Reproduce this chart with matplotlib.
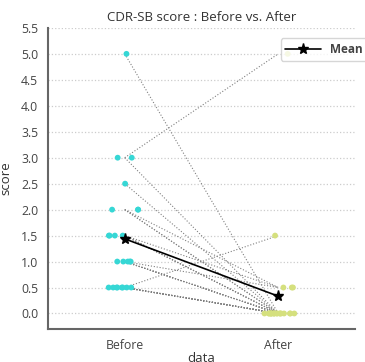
import numpy as np
import pandas as pd
import matplotlib
matplotlib.use('Agg')
import matplotlib.pyplot as plt
import seaborn as sns

# paired scores per subject (before -> after)
before = [5.0, 3.0, 3.0, 2.5, 2.0, 2.0, 2.0, 1.5, 1.5, 1.5, 1.5,
          1.0, 1.0, 1.0, 1.0, 1.0, 0.5, 0.5, 0.5, 0.5, 0.5, 0.5, 0.5, 0.5]
after = [0.0, 5.0, 0.0, 0.0, 0.0, 0.5, 0.0, 0.0, 0.5, 0.0, 0.0,
         0.0, 0.5, 0.0, 0.0, 0.0, 1.5, 0.0, 0.0, 0.0, 0.0, 0.0, 0.0, 0.0]
groups = ['Before', 'After']
colors = ['#36d7d5', '#d5e07e']

df = pd.DataFrame({'data': ['Before'] * len(before) + ['After'] * len(after),
                   'score': before + after})

sns.set_style('white')
plt.rcParams['font.family'] = ['Open Sans', 'DejaVu Sans']

fig = plt.figure(figsize=(3.65, 3.62), dpi=100)
ax = fig.add_axes([0.1315, 0.091, 0.841, 0.832])

# subject lines
for b, a in zip(before, after):
    ax.plot([0, 1], [b, a], color='gray', ls=':', lw=0.8, zorder=1)

np.random.seed(3)
sns.stripplot(data=df, x='data', y='score', hue='data', palette=colors,
              order=groups, jitter=0.11, size=4.2, legend=False, ax=ax, zorder=2)

means = [np.mean(before), np.mean(after)]
ax.plot([0, 1], means, color='black', lw=1.2, marker='*', ms=8, label='Mean', zorder=3)

ax.set_xlim(-0.5, 1.5)
ax.set_ylim(-0.3, 5.5)
ax.set_yticks(np.arange(0, 5.51, 0.5))
ax.yaxis.grid(True, ls=':', color='#cccccc', lw=0.9)
ax.tick_params(labelsize=8.8, colors='#444444', length=0, pad=7)
for s in ['top', 'right']:
    ax.spines[s].set_visible(False)
for s in ['left', 'bottom']:
    ax.spines[s].set_color('#666666')
    ax.spines[s].set_linewidth(1.5)

ax.set_title('CDR-SB score : Before vs. After', fontsize=9.5, color='#333333', pad=5)
ax.set_xlabel('data', fontsize=9.5, color='#333333', labelpad=0)
ax.set_ylabel('score', fontsize=9.5, color='#333333', labelpad=6)

leg = ax.legend(loc='upper right', bbox_to_anchor=(1.06, 0.985),
                prop={'weight': 'bold', 'size': 8.5}, frameon=True, handlelength=3)
for t in leg.get_texts():
    t.set_color('#444444')

fig.savefig('out.png', dpi=100)
